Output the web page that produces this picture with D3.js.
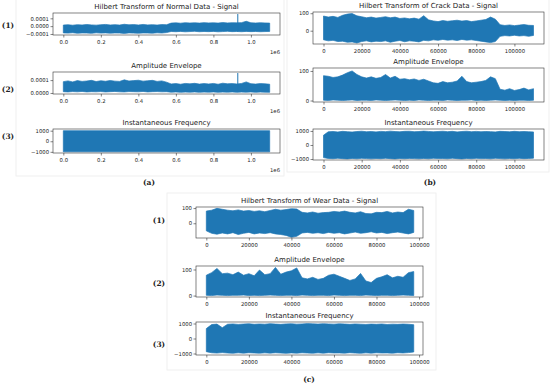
<!DOCTYPE html>
<html>
<head>
<meta charset="utf-8">
<script src="https://cdn.jsdelivr.net/npm/d3@7"></script>
<style>
    body{margin:0;background:#fff}
    svg{display:block}
    .tick text{font-family:"DejaVu Sans",sans-serif;font-size:5.3px;fill:#222}
    .tick line{stroke:#333;stroke-width:0.6}
    .domain{display:none}
    .ttl{font-family:"DejaVu Sans",sans-serif;font-size:7px;fill:#222;text-anchor:middle}
    .off{font-family:"DejaVu Sans",sans-serif;font-size:5.3px;fill:#222;text-anchor:end}
    .lbl{font-family:"DejaVu Serif",serif;font-weight:bold;font-size:7.5px;fill:#222;text-anchor:middle}
</style>
</head>
<body>
<svg id="fig" width="550" height="386"></svg>
<script>
"use strict";

// ---- data ----
const normalX = [0,25000,50000,75000,100000,125000,150000,175000,200000,225000,250000,275000,300000,325000,350000,375000,400000,425000,450000,475000,500000,525000,550000,575000,600000,625000,650000,675000,700000,725000,750000,775000,800000,825000,850000,875000,900000,925000,950000,975000,1000000,1025000,1050000,1075000,1100000];
const normalSignalHi = [1.4e-5,1.8e-5,1.2e-5,1.9e-5,1.5e-5,2.1e-5,1.6e-5,1.3e-5,1.8e-5,2.2e-5,1.5e-5,1.9e-5,1.4e-5,2.4e-5,1.7e-5,2.0e-5,1.5e-5,2.2e-5,1.6e-5,1.9e-5,1.4e-5,2.0e-5,1.8e-5,
    3.9e-5,4.2e-5,3.8e-5,4.4e-5,4.0e-5,4.3e-5,3.9e-5,4.5e-5,4.1e-5,4.3e-5,3.9e-5,4.6e-5,4.1e-5,4.4e-5,4.2e-5,4.5e-5,6.2e-5,4.3e-5,4.0e-5,4.4e-5,4.1e-5,3.9e-5];
const normalSignalLo = [-8.6e-5,-8.9e-5,-8.4e-5,-9.1e-5,-8.7e-5,-8.8e-5,-9.2e-5,-8.5e-5,-8.9e-5,-8.6e-5,-9.0e-5,-8.7e-5,-8.8e-5,-9.3e-5,-8.6e-5,-8.9e-5,-9.1e-5,-8.7e-5,-8.8e-5,-9.0e-5,-8.5e-5,-8.8e-5,-8.2e-5,
    -6.8e-5,-7.1e-5,-6.7e-5,-7.2e-5,-6.9e-5,-6.6e-5,-7.1e-5,-6.8e-5,-7.0e-5,-6.7e-5,-7.2e-5,-6.9e-5,-6.6e-5,-7.0e-5,-6.8e-5,-7.1e-5,-6.7e-5,-7.0e-5,-6.8e-5,-7.1e-5,-6.9e-5,-6.7e-5];
const normalEnvHi = [8.8e-5,9.4e-5,8.6e-5,9.6e-5,9.0e-5,9.3e-5,9.8e-5,8.9e-5,9.5e-5,9.1e-5,9.7e-5,9.2e-5,9.0e-5,10.2e-5,9.3e-5,9.6e-5,9.9e-5,9.2e-5,9.5e-5,9.8e-5,9.0e-5,9.4e-5,8.4e-5,
    7.0e-5,7.3e-5,6.8e-5,7.4e-5,7.1e-5,7.5e-5,6.9e-5,7.3e-5,7.0e-5,7.4e-5,6.8e-5,7.6e-5,7.1e-5,7.3e-5,7.0e-5,7.4e-5,8.6e-5,7.2e-5,6.9e-5,7.3e-5,7.1e-5,6.8e-5];
const normalEnvLo = [1.0e-5,0.8e-5,1.1e-5,0.9e-5,1.2e-5,0.8e-5,1.0e-5,0.9e-5,1.1e-5,0.8e-5,1.0e-5,1.2e-5,0.9e-5,0.8e-5,1.1e-5,1.0e-5,0.9e-5,1.2e-5,0.8e-5,1.0e-5,1.1e-5,0.9e-5,1.0e-5,
    0.6e-5,0.8e-5,0.5e-5,0.7e-5,0.6e-5,0.8e-5,0.5e-5,0.7e-5,0.6e-5,0.8e-5,0.5e-5,0.7e-5,0.6e-5,0.8e-5,0.5e-5,0.7e-5,0.6e-5,0.8e-5,0.5e-5,0.7e-5,0.6e-5,0.5e-5];
const normalSpikeX = [930000];
const normalSignalSpikeTop = [1.55e-4];
const normalEnvSpikeTop = [1.55e-4];
const normalFreqX = [0, 1100000];
const normalFreqHi = [1000, 1000];
const normalFreqLo = [-1000, -1000];

const crackX = [0,2500,5000,7500,10000,12500,15000,17500,20000,22500,25000,27500,30000,32500,35000,37500,40000,42500,45000,47500,50000,52500,55000,57500,60000,62500,65000,67500,70000,72500,75000,77500,80000,82500,85000,87500,90000,92500,95000,97500,100000,102500,105000,107500,110000];
const crackSignalHi = [84,78,82,76,88,95,98,85,80,74,78,72,76,80,74,78,70,73,68,72,66,86,62,56,52,58,54,57,60,55,58,52,56,60,64,78,66,34,30,33,29,32,35,31,30];
const crackSignalLo = [-52,-58,-55,-62,-60,-66,-64,-70,-62,-58,-64,-60,-62,-58,-66,-60,-56,-63,-58,-60,-64,-55,-58,-52,-55,-50,-54,-52,-56,-50,-54,-52,-56,-60,-64,-68,-62,-32,-28,-30,-26,-30,-28,-32,-27];
const crackEnvHi = [84,82,78,80,86,94,100,88,80,76,80,75,78,88,76,82,72,74,70,73,68,72,66,60,58,64,60,62,66,82,64,60,62,64,68,80,74,38,35,40,34,37,42,36,40];
const crackEnvLo = [1,0,2,1,0,1,2,0,1,1,0,2,1,0,1,2,1,0,1,0,2,1,0,1,1,0,2,1,0,1,1,2,0,1,0,1,2,1,0,1,0,1,1,0,1];
const crackFreqHi = [700,940,965,930,972,950,925,960,982,944,962,935,970,952,988,958,942,975,980,948,960,990,968,942,962,980,952,972,934,962,982,948,970,944,962,952,932,972,960,942,974,950,962,944,930];
const crackFreqLo = [-900,-962,-978,-948,-972,-990,-958,-982,-952,-968,-988,-962,-976,-950,-972,-992,-960,-980,-955,-970,-986,-958,-982,-950,-968,-962,-980,-948,-972,-990,-960,-978,-952,-970,-964,-982,-950,-968,-988,-962,-980,-954,-972,-960,-940];

const wearX = [0,2500,5000,7500,10000,12500,15000,17500,20000,22500,25000,27500,30000,32500,35000,37500,40000,42500,45000,47500,50000,52500,55000,57500,60000,62500,65000,67500,70000,72500,75000,77500,80000,82500,85000,87500,90000,92500,95000,97500];
const wearSignalHi = [80,86,98,92,86,82,88,80,84,78,82,76,84,92,86,90,96,94,72,68,74,66,70,72,78,74,80,72,68,76,64,62,72,70,78,68,74,70,92,84];
const wearSignalLo = [-50,-66,-72,-64,-70,-62,-74,-66,-60,-70,-64,-68,-62,-70,-74,-80,-92,-86,-64,-60,-66,-62,-68,-60,-66,-62,-70,-64,-58,-66,-62,-56,-64,-60,-68,-62,-58,-64,-70,-60];
const wearEnvHi = [78,88,104,84,86,80,90,78,84,76,98,80,84,108,82,90,95,106,68,64,70,62,66,78,82,74,66,58,64,85,56,50,66,72,80,68,74,70,88,92];
const wearEnvLo = [1,0,2,1,0,1,1,2,0,1,0,1,2,1,0,1,1,0,2,1,0,1,1,0,2,1,0,1,1,0,2,1,0,1,1,0,1,2,1,0];
const wearFreqHi = [660,930,960,720,950,972,940,965,985,948,970,955,990,962,944,975,985,958,970,992,978,962,988,970,958,982,966,944,972,955,938,962,948,970,935,958,944,966,950,920];
const wearFreqLo = [-880,-950,-972,-940,-968,-985,-955,-978,-948,-966,-982,-958,-975,-950,-970,-990,-960,-978,-952,-968,-984,-956,-980,-948,-966,-962,-978,-946,-970,-988,-958,-976,-950,-968,-962,-980,-948,-966,-940,-900];

const normalXTicks = [0,200000,400000,600000,800000,1000000];
const sampleXTicks = [0,20000,40000,60000,80000,100000];
const smallYTicks = [-1e-4, 0, 1e-4];
const envSmallYTicks = [0, 1e-4];
const ampTicks = [0, 100];
const freqTicks = [-1000, 0, 1000];

const titles = {
    normal: "Hilbert Transform of Normal Data - Signal",
    crack: "Hilbert Transform of Crack Data - Signal",
    wear: "Hilbert Transform of Wear Data - Signal",
    env: "Amplitude Envelope",
    freq: "Instantaneous Frequency"
};

// ---- drawing ----
const BLUE = "#1f77b4";
const svg = d3.select("#fig");

function subplot(p){
    const [x0, x1, y0, y1] = p.box;
    const x = d3.scaleLinear().domain(p.xDomain).range([x0, x1]);
    const y = d3.scaleLinear().domain(p.yDomain).range([y1, y0]);
    const g = svg.append("g");

    const rows = p.xs.map((d, i) => ({x: d, hi: p.hi[i], lo: p.lo[i]}));
    g.append("path").datum(rows)
        .attr("d", d3.area().x(d => x(d.x)).y0(d => y(d.lo)).y1(d => y(d.hi)))
        .attr("fill", BLUE)
        .attr("stroke", BLUE)
        .attr("stroke-width", 0.7)
        .attr("stroke-linejoin", "miter");

    if (p.spikes){
        p.spikes.forEach((s, i) => {
            g.append("line")
                .attr("x1", x(s)).attr("x2", x(s))
                .attr("y1", y(p.spikeBase)).attr("y2", y(p.spikeTop[i]))
                .attr("stroke", BLUE).attr("stroke-width", 1);
        });
    }

    g.append("rect")
        .attr("x", x0).attr("y", y0)
        .attr("width", x1 - x0).attr("height", y1 - y0)
        .attr("fill", "none").attr("stroke", "#333").attr("stroke-width", 0.6);

    g.append("g")
        .attr("transform", "translate(0," + y1 + ")")
        .call(d3.axisBottom(x).tickValues(p.xTicks).tickFormat(p.xFmt).tickSize(2.5).tickPadding(2.5));

    g.append("g")
        .attr("transform", "translate(" + x0 + ",0)")
        .call(d3.axisLeft(y).tickValues(p.yTicks).tickFormat(p.yFmt).tickSize(2.5).tickPadding(1.5));

    g.append("text").attr("class", "ttl")
        .attr("x", (x0 + x1) / 2).attr("y", y0 - 4.5)
        .text(p.title);

    if (p.offset){
        g.append("text").attr("class", "off")
            .attr("x", x1).attr("y", y1 + 18.5)
            .text(p.offset);
    }
}

// faint panel frames
[[16, -1, 268, 177], [287, -1, 262, 173], [167, 193, 269, 177]].forEach(r => {
    svg.append("rect").attr("x", r[0]).attr("y", r[1]).attr("width", r[2]).attr("height", r[3])
        .attr("fill", "none").attr("stroke", "#ececec").attr("stroke-width", 0.8);
});

const fmtE6 = d => (d / 1e6).toFixed(1);
const fmt4 = d3.format(".4f");
const fmtInt = d3.format("d");

// panel (a)
const aX = [53, 280], aDom = [-55000, 1155000];
subplot({box: [aX[0], aX[1], 13, 35], xDomain: aDom, yDomain: [-1.13e-4, 1.68e-4],
    xs: normalX, hi: normalSignalHi, lo: normalSignalLo,
    spikes: normalSpikeX, spikeTop: normalSignalSpikeTop, spikeBase: -7e-5,
    xTicks: normalXTicks, xFmt: fmtE6, yTicks: smallYTicks, yFmt: fmt4,
    title: titles.normal, offset: "1e6"});
subplot({box: [aX[0], aX[1], 72, 94], xDomain: aDom, yDomain: [-0.08e-4, 1.63e-4],
    xs: normalX, hi: normalEnvHi, lo: normalEnvLo,
    spikes: normalSpikeX, spikeTop: normalEnvSpikeTop, spikeBase: 1e-5,
    xTicks: normalXTicks, xFmt: fmtE6, yTicks: envSmallYTicks, yFmt: fmt4,
    title: titles.env, offset: "1e6"});
subplot({box: [aX[0], aX[1], 129, 153], xDomain: aDom, yDomain: [-1110, 1160],
    xs: normalFreqX, hi: normalFreqHi, lo: normalFreqLo,
    xTicks: normalXTicks, xFmt: fmtE6, yTicks: freqTicks, yFmt: fmtInt,
    title: titles.freq, offset: "1e6"});

// panel (b)
const bX = [313, 544], bDom = [-5500, 115500];
subplot({box: [bX[0], bX[1], 12, 44], xDomain: bDom, yDomain: [-76, 107],
    xs: crackX, hi: crackSignalHi, lo: crackSignalLo,
    xTicks: sampleXTicks, xFmt: fmtInt, yTicks: ampTicks, yFmt: fmtInt,
    title: titles.crack});
subplot({box: [bX[0], bX[1], 68, 102], xDomain: bDom, yDomain: [-5, 110],
    xs: crackX, hi: crackEnvHi, lo: crackEnvLo,
    xTicks: sampleXTicks, xFmt: fmtInt, yTicks: ampTicks, yFmt: fmtInt,
    title: titles.env});
subplot({box: [bX[0], bX[1], 129, 160], xDomain: bDom, yDomain: [-1070, 1140],
    xs: crackX, hi: crackFreqHi, lo: crackFreqLo,
    xTicks: sampleXTicks, xFmt: fmtInt, yTicks: freqTicks, yFmt: fmtInt,
    title: titles.freq});

// panel (c)
const cX = [196, 423], cDom = [-4850, 101850];
subplot({box: [cX[0], cX[1], 207, 238], xDomain: cDom, yDomain: [-97, 107],
    xs: wearX, hi: wearSignalHi, lo: wearSignalLo,
    xTicks: sampleXTicks, xFmt: fmtInt, yTicks: ampTicks, yFmt: fmtInt,
    title: titles.wear});
subplot({box: [cX[0], cX[1], 266, 297], xDomain: cDom, yDomain: [-5.4, 113.4],
    xs: wearX, hi: wearEnvHi, lo: wearEnvLo,
    xTicks: sampleXTicks, xFmt: fmtInt, yTicks: ampTicks, yFmt: fmtInt,
    title: titles.env});
subplot({box: [cX[0], cX[1], 322, 355], xDomain: cDom, yDomain: [-1100, 1100],
    xs: wearX, hi: wearFreqHi, lo: wearFreqLo,
    xTicks: sampleXTicks, xFmt: fmtInt, yTicks: freqTicks, yFmt: fmtInt,
    title: titles.freq});

// row and panel labels
const labels = [
    ["(1)", 8, 25], ["(2)", 8, 89], ["(3)", 8, 136],
    ["(1)", 159, 220], ["(2)", 159, 283], ["(3)", 159, 344],
    ["(a)", 149, 182], ["(b)", 430, 182], ["(c)", 309, 379]
];
svg.selectAll("text.lbl").data(labels).enter().append("text")
    .attr("class", "lbl")
    .attr("x", d => d[1]).attr("y", d => d[2])
    .attr("dy", "0.35em")
    .text(d => d[0]);
</script>
</body>
</html>
